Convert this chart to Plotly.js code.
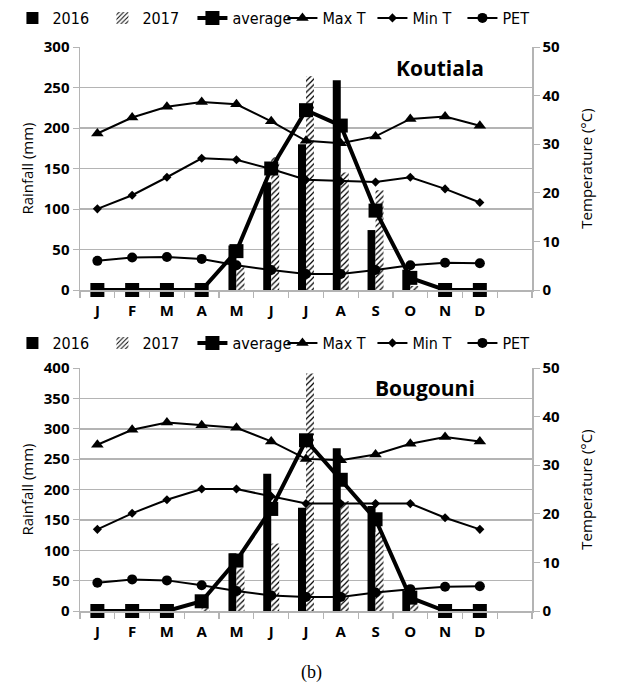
<!DOCTYPE html>
<html><head><meta charset="utf-8">
<script src="https://cdn.plot.ly/plotly-3.0.1.min.js"></script>
<style>html,body{margin:0;padding:0;background:#fff}#c{width:622px;height:682px}</style>
</head><body><div id="c"></div>
<script>
var months = ['J','F','M','A','M','J','J','A','S','O','N','D'];
var monthIdx = [0,1,2,3,4,5,6,7,8,9,10,11];

// Koutiala
var k2016 = [0,0,0,0,55,133,180,259,74,25,0,0];
var k2017 = [0,0,0,0,28,164,264,145,123,5,0,0];
var kAvg  = [0,0,0,0,48,150,222,203,98,15,0,0];
var kMax  = [32.2,35.5,37.7,38.7,38.2,34.7,30.7,30.2,31.6,35.2,35.7,33.8];
var kMin  = [16.7,19.5,23.2,27.1,26.8,24.9,22.7,22.4,22.2,23.2,20.8,18.0];
var kPet  = [6.0,6.7,6.8,6.4,5.1,4.1,3.3,3.3,4.1,5.1,5.6,5.5];

// Bougouni
var b2016 = [0,0,0,0,95,226,170,268,173,33,0,0];
var b2017 = [0,0,0,5,70,111,391,181,131,20,0,0];
var bAvg  = [0,0,0,16,83,168,281,216,151,22,0,0];
var bMax  = [34.2,37.3,38.8,38.2,37.7,34.9,31.3,31.0,32.2,34.4,35.8,34.9];
var bMin  = [16.8,20.1,22.9,25.1,25.1,23.6,22.1,22.1,22.1,22.1,19.2,16.8];
var bPet  = [5.8,6.5,6.3,5.3,4.1,3.2,2.9,2.9,3.8,4.5,5.0,5.1];

function series(xa, ya, yt, lg, d16, d17, avg, mx, mn, pet) {
  return [
    {type:'bar', name:'2016', x:monthIdx, y:d16, xaxis:xa, yaxis:ya, legend:lg,
     marker:{color:'#000', line:{width:0}}},
    {type:'bar', name:'2017', x:monthIdx, y:d17, xaxis:xa, yaxis:ya, legend:lg,
     marker:{color:'#fff', line:{width:0}, pattern:{shape:'/', fgcolor:'#000', bgcolor:'#fff', size:4, solidity:0.3}}},
    {type:'scatter', mode:'lines+markers', name:'average', x:monthIdx, y:avg, xaxis:xa, yaxis:ya, legend:lg, cliponaxis:false,
     line:{color:'#000', width:4}, marker:{symbol:'square', size:14, color:'#000'}},
    {type:'scatter', mode:'lines+markers', name:'Max T', x:monthIdx, y:mx, xaxis:xa, yaxis:yt, legend:lg, cliponaxis:false,
     line:{color:'#000', width:2}, marker:{symbol:'triangle-up', size:11, color:'#000'}},
    {type:'scatter', mode:'lines+markers', name:'Min T', x:monthIdx, y:mn, xaxis:xa, yaxis:yt, legend:lg, cliponaxis:false,
     line:{color:'#000', width:2}, marker:{symbol:'diamond', size:7, color:'#000'}},
    {type:'scatter', mode:'lines+markers', name:'PET', x:monthIdx, y:pet, xaxis:xa, yaxis:yt, legend:lg, cliponaxis:false,
     line:{color:'#000', width:2}, marker:{symbol:'circle', size:10, color:'#000'}}
  ];
}

var data = series('x','y','y2','legend', k2016, k2017, kAvg, kMax, kMin, kPet)
  .concat(series('x2','y3','y4','legend2', b2016, b2017, bAvg, bMax, bMin, bPet));

var tickFont = {family:'Open Sans, Liberation Sans, sans-serif', size:15, color:'#000', weight:700};
var grey = '#b4b4b4';
var xd = [80/622, 532/622];
var topD = [(682-290)/682, (682-47)/682];
var botD = [(682-611)/682, (682-368)/682];

function xAxis(dom, anchor) {
  return {domain:xd, anchor:anchor, range:[-0.5,12.5], tickvals:monthIdx, ticktext:months,
    ticks:'', showgrid:false, zeroline:false, showline:true, linecolor:grey, linewidth:1.5,
    tickfont:tickFont, ticklabelstandoff:6,
    minor:{tick0:-0.5, dtick:1, ticks:'outside', ticklen:6, tickcolor:grey, tickwidth:1.2, showgrid:false}};
}
function leftAxis(dom, anchor, max, dt, title) {
  return {domain:dom, anchor:anchor, range:[0,max], dtick:dt, tick0:0, showgrid:true, gridcolor:grey, gridwidth:1.5,
    zeroline:false, showline:true, linecolor:grey, linewidth:1.5, ticks:'outside', ticklen:6, tickcolor:grey,
    tickfont:tickFont, title:{text:title, font:{family:'Open Sans, Liberation Sans, sans-serif', size:15, color:'#000'}, standoff:6}};
}
function rightAxis(dom, anchor, overlay, title) {
  return {domain:dom, anchor:anchor, overlaying:overlay, side:'right', range:[0,50], dtick:10, tick0:0,
    showgrid:false, zeroline:false, showline:true, linecolor:grey, linewidth:1.5, ticks:'outside', ticklen:6, tickcolor:grey,
    tickfont:tickFont, title:{text:title, font:{family:'Open Sans, Liberation Sans, sans-serif', size:15, color:'#000'}, standoff:22}};
}

var legFont = {family:'Liberation Sans Narrow, DejaVu Sans Condensed, Liberation Sans, sans-serif', size:16, color:'#000'};
var layout = {
  width:622, height:682, margin:{l:0,r:0,t:0,b:0}, paper_bgcolor:'#fff', plot_bgcolor:'#fff',
  showlegend:true, barmode:'group', bargap:0.54, bargroupgap:0,
  xaxis: xAxis(topD, 'y'),
  yaxis: leftAxis(topD, 'x', 300, 50, 'Rainfall (mm)'),
  yaxis2: rightAxis(topD, 'x', 'y', 'Temperature (°C)'),
  xaxis2: xAxis(botD, 'y3'),
  yaxis3: leftAxis(botD, 'x2', 400, 50, 'Rainfall (mm)'),
  yaxis4: rightAxis(botD, 'x2', 'y3', 'Temperature (°C)'),
  legend:{orientation:'h', x:0.02, xanchor:'left', y:(682-18)/682, yanchor:'middle', font:legFont,
    bgcolor:'rgba(0,0,0,0)', entrywidth:45, entrywidthmode:'pixels', itemclick:false, traceorder:'normal'},
  legend2:{orientation:'h', x:0.02, xanchor:'left', y:(682-343)/682, yanchor:'middle', font:legFont,
    bgcolor:'rgba(0,0,0,0)', entrywidth:45, entrywidthmode:'pixels', itemclick:false, traceorder:'normal'},
  annotations:[
    {text:'Koutiala', xref:'paper', yref:'paper', x:440/622, y:(682-68)/682, xanchor:'center', yanchor:'middle', showarrow:false,
     font:{family:'Open Sans, Liberation Sans, sans-serif', size:21, color:'#000', weight:700}},
    {text:'Bougouni', xref:'paper', yref:'paper', x:425/622, y:(682-388)/682, xanchor:'center', yanchor:'middle', showarrow:false,
     font:{family:'Open Sans, Liberation Sans, sans-serif', size:21, color:'#000', weight:700}},
    {text:'(b)', xref:'paper', yref:'paper', x:311/622, y:(682-672)/682, xanchor:'center', yanchor:'middle', showarrow:false,
     font:{family:'Liberation Serif, DejaVu Serif, serif', size:18, color:'#000'}}
  ]
};

Plotly.newPlot('c', data, layout, {staticPlot:true, displayModeBar:false});
</script></body></html>
